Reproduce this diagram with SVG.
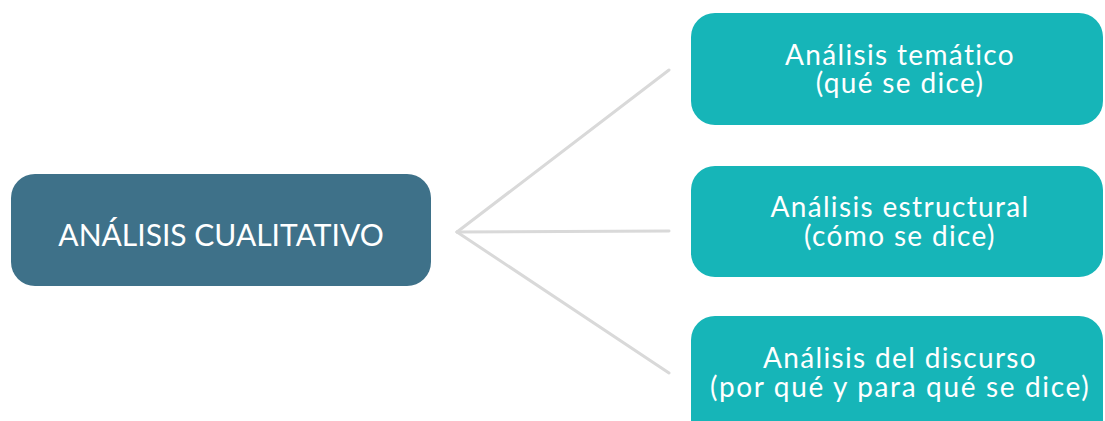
<svg xmlns="http://www.w3.org/2000/svg" width="1105" height="421" viewBox="0 0 1105 421">
<style>
.t{font-family:Lato,"Noto Sans","Liberation Sans",sans-serif;fill:#ffffff;text-anchor:middle;font-variant-ligatures:none}
.c{font-size:30px}
.s{font-size:28px;letter-spacing:1.35px}
.conn line{stroke:#d9d9d9;stroke-width:3;stroke-linecap:round}
</style>
<rect width="1105" height="421" fill="#ffffff"/>
<g class="conn" id="connectors">
<line x1="457" y1="232" x2="669" y2="70"/>
<line x1="457" y1="232" x2="669" y2="231"/>
<line x1="457" y1="232" x2="669" y2="373"/>
</g>
<g id="root">
<rect x="11" y="174" width="420" height="112" rx="24" fill="#3e7189"/>
<text class="t c" x="221" y="246">ANÁLISIS CUALITATIVO</text>
</g>
<g id="tematico">
<rect x="691" y="13" width="412" height="112" rx="24" fill="#16b5b8"/>
<text class="t s" x="900" y="65">Análisis temático</text>
<text class="t s" x="900" y="93">(qué se dice)</text>
</g>
<g id="estructural">
<rect x="691" y="166" width="412" height="111" rx="24" fill="#16b5b8"/>
<text class="t s" x="900" y="217">Análisis estructural</text>
<text class="t s" x="900" y="246">(cómo se dice)</text>
</g>
<g id="discurso">
<rect x="691" y="316" width="412" height="130" rx="24" fill="#16b5b8"/>
<text class="t s" x="900" y="368">Análisis del discurso</text>
<text class="t s" x="900" y="397" textLength="380">(por qué y para qué se dice)</text>
</g>
</svg>
